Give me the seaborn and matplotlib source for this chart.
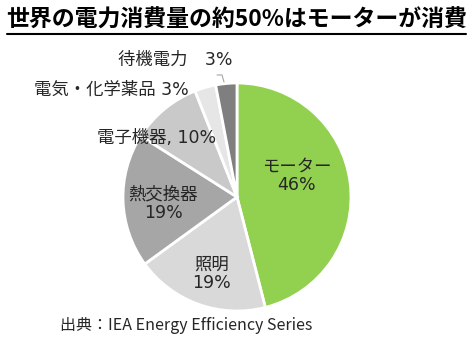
import matplotlib
matplotlib.use("Agg")
import matplotlib.pyplot as plt
from matplotlib.lines import Line2D
import seaborn as sns

sns.set_theme(style="white")
plt.rcParams['font.family'] = ['Noto Sans CJK JP', 'DejaVu Sans']

# Data (clockwise from 12 o'clock)
categories = ["モーター", "照明", "熱交換器", "電子機器", "電気・化学薬品", "待機電力"]
values = [46, 19, 19, 10, 3, 3]
colors = ["#92D050", "#D9D9D9", "#A6A6A6", "#C9C9C9", "#E6E6E6", "#7F7F7F"]
labels = ["モーター\n46%", "照明\n19%", "熱交換器\n19%", "電子機器, 10%", "電気・化学薬品 3%", "待機電力　3%"]
title = "世界の電力消費量の約50%はモーターが消費"
source = "出典：IEA Energy Efficiency Series"

W, H = 475, 341
fig = plt.figure(figsize=(W / 100, H / 100), dpi=100)
cx, cy, r = 237, 197, 114
ax = fig.add_axes([(cx - r) / W, (H - cy - r) / H, 2 * r / W, 2 * r / H])

wedges, _ = ax.pie(values, colors=colors, startangle=90, counterclock=False,
                   wedgeprops=dict(edgecolor="white", linewidth=2))
ax.set_xlim(-1, 1)
ax.set_ylim(-1, 1)
ax.set_aspect("equal")
ax.axis("off")

def px2d(px, py):
    return ((px - cx) / r, (cy - py) / r)

txt_color = "#262626"
fs = 12.5
label_font = ['DejaVu Sans', 'Noto Sans CJK JP']
# label positions in pixel space (text only)
label_pos = [(297, 176), (212, 274), (163, 204), (157, 138), (111, 90), (175, 60)]
for i, (lab, (px, py)) in enumerate(zip(labels, label_pos)):
    x, y = px2d(px, py)
    ax.text(x, y, lab, ha="center", va="center", fontsize=fs, color=txt_color,
            linespacing=1.05, family=label_font)

# leader line for 待機電力
p0 = px2d(224, 82)
p1 = px2d(222, 75)
p2 = px2d(217, 75)
ax.plot([p0[0], p1[0], p2[0]], [p0[1], p1[1], p2[1]], color="#A6A6A6", lw=0.8,
        clip_on=False)

fig.text(237 / W, 1 - 20 / H, title, ha="center", va="center", fontsize=16.5,
         fontweight="bold", color="black")
fig.add_artist(Line2D([7 / W, 466 / W], [1 - 34 / H, 1 - 34 / H], color="black",
                      lw=1.5, transform=fig.transFigure))

fig.text(60 / W, 1 - 326 / H, source, ha="left", va="center", fontsize=11.5,
         color=txt_color)

fig.savefig("out.png", dpi=100, facecolor="white")
